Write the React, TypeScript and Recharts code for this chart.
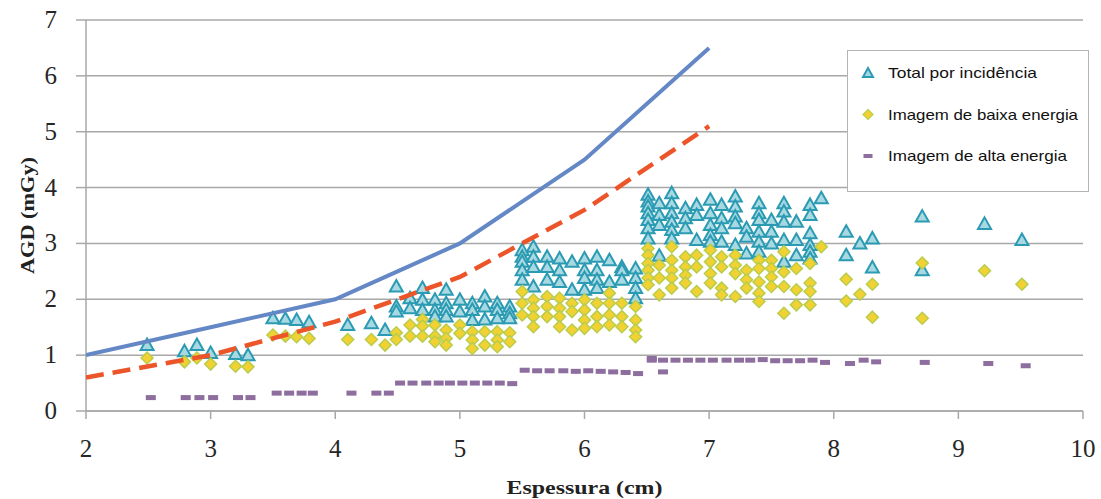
import React from 'react';
import { ScatterChart, Scatter, XAxis, YAxis, CartesianGrid, Legend } from 'recharts';

// Reference dose levels (EUREF style)
const thickness = [2, 3, 4, 4.5, 5, 6, 7];
const acceptableLevel = [1.0, 1.5, 2.0, 2.5, 3.0, 4.5, 6.5];
const achievableLevel = [0.6, 1.0, 1.6, 2.0, 2.4, 3.6, 5.1];

const xTicks = [2, 3, 4, 5, 6, 7, 8, 9, 10];
const yTicks = [0, 1, 2, 3, 4, 5, 6, 7];

const seriesNames = ['Total por incidência', 'Imagem de baixa energia', 'Imagem de alta energia'];

// Total por incidência: [espessura, AGD values...]
const totalCols: number[][] = [
  [2.49, 1.18],
  [2.79, 1.07], [2.89, 1.18], [3.0, 1.04],
  [3.2, 1.02], [3.3, 1.0],
  [3.5, 1.66], [3.6, 1.65], [3.69, 1.63], [3.79, 1.59],
  [4.1, 1.54], [4.29, 1.57], [4.4, 1.45],
  [4.49, 2.23, 1.87, 1.78],
  [4.6, 2.02, 1.84],
  [4.7, 2.2, 1.99, 1.81],
  [4.8, 1.99, 1.81, 1.69],
  [4.89, 2.17, 1.93, 1.81, 1.69],
  [5.0, 1.99, 1.78],
  [5.1, 1.93, 1.81, 1.63],
  [5.2, 2.05, 1.87, 1.64],
  [5.3, 1.93, 1.81, 1.66],
  [5.4, 1.87, 1.75, 1.66],
  [5.5, 2.88, 2.76, 2.67, 2.52, 2.35],
  [5.59, 2.94, 2.76, 2.58, 2.23],
  [5.7, 2.76, 2.58, 2.35],
  [5.8, 2.73, 2.52, 2.31],
  [5.9, 2.67, 2.17],
  [6.0, 2.73, 2.52, 2.38, 2.17],
  [6.1, 2.76, 2.52, 2.35, 2.2],
  [6.2, 2.7, 2.31],
  [6.3, 2.58, 2.52, 2.35],
  [6.41, 2.55, 2.38, 2.2, 2.02],
  [6.51, 3.87, 3.75, 3.66, 3.54, 3.42, 3.27, 3.09],
  [6.6, 3.72, 3.51, 3.33, 2.78],
  [6.7, 3.9, 3.72, 3.54, 3.39, 3.24, 3.09],
  [6.81, 3.63, 3.45, 3.27],
  [6.9, 3.69, 3.51, 3.06],
  [7.01, 3.78, 3.54, 3.33, 3.15, 3.03],
  [7.1, 3.69, 3.45, 3.27, 3.03],
  [7.21, 3.84, 3.66, 3.48, 3.36, 2.97],
  [7.3, 3.27, 3.12, 2.82],
  [7.4, 3.72, 3.54, 3.42, 3.21, 3.03, 2.85],
  [7.5, 3.42, 3.21, 3.0],
  [7.6, 3.72, 3.57, 3.39, 3.06, 2.67],
  [7.7, 3.39, 3.06, 2.79],
  [7.81, 3.69, 3.51, 3.18, 2.97, 2.85, 2.73],
  [7.9, 3.81],
  [8.1, 3.21, 2.79],
  [8.21, 3.0],
  [8.31, 3.09, 2.57],
  [8.71, 3.48, 2.52],
  [9.21, 3.35],
  [9.51, 3.06],
];

// Imagem de baixa energia
const lowCols: number[][] = [
  [2.49, 0.95],
  [2.79, 0.88], [2.89, 0.95], [3.0, 0.84],
  [3.2, 0.8], [3.3, 0.79],
  [3.5, 1.36], [3.6, 1.34], [3.69, 1.33], [3.79, 1.3],
  [4.1, 1.28], [4.29, 1.28], [4.4, 1.18],
  [4.49, 1.4, 1.28],
  [4.6, 1.54, 1.34],
  [4.7, 1.64, 1.52, 1.34],
  [4.8, 1.54, 1.34, 1.24],
  [4.89, 1.45, 1.3, 1.18],
  [5.0, 1.54, 1.39],
  [5.1, 1.42, 1.27, 1.12],
  [5.2, 1.42, 1.18],
  [5.3, 1.42, 1.27, 1.15],
  [5.4, 1.4, 1.24],
  [5.5, 2.14, 1.93, 1.72],
  [5.59, 1.99, 1.84, 1.69, 1.51],
  [5.7, 2.05, 1.87, 1.69],
  [5.8, 2.02, 1.84, 1.69, 1.51],
  [5.9, 1.93, 1.78, 1.45],
  [6.0, 1.99, 1.81, 1.63, 1.48],
  [6.1, 1.93, 1.69, 1.51],
  [6.2, 2.11, 1.93, 1.72, 1.54],
  [6.3, 1.93, 1.69, 1.51],
  [6.41, 1.87, 1.63, 1.45, 1.33],
  [6.51, 2.91, 2.79, 2.64, 2.52, 2.38, 2.26],
  [6.6, 2.61, 2.38, 2.08],
  [6.7, 2.94, 2.7, 2.52, 2.38, 2.2],
  [6.81, 2.76, 2.58, 2.43, 2.29],
  [6.9, 2.79, 2.58, 2.14],
  [7.01, 2.88, 2.67, 2.46, 2.29],
  [7.1, 2.76, 2.58, 2.2, 2.08],
  [7.21, 2.79, 2.61, 2.46, 2.05],
  [7.3, 2.52, 2.35, 2.2],
  [7.4, 2.7, 2.55, 2.31, 2.11, 1.96],
  [7.5, 2.7, 2.55, 2.4, 2.23],
  [7.6, 2.85, 2.49, 2.23, 1.75],
  [7.7, 2.55, 2.17, 1.9],
  [7.81, 2.64, 2.29, 2.14, 1.9],
  [7.9, 2.94],
  [8.1, 2.36, 1.97],
  [8.21, 2.09],
  [8.31, 2.27, 1.68],
  [8.71, 2.65, 1.66],
  [9.21, 2.51],
  [9.51, 2.27],
];

// Imagem de alta energia
const highCols: number[][] = [
  [2.52, 0.24], [2.8, 0.24], [2.91, 0.24], [3.02, 0.24], [3.22, 0.24], [3.32, 0.24],
  [3.53, 0.32], [3.63, 0.32], [3.73, 0.32], [3.82, 0.32],
  [4.13, 0.32], [4.33, 0.32], [4.43, 0.32],
  [4.52, 0.5], [4.62, 0.5], [4.73, 0.5], [4.83, 0.5], [4.92, 0.5],
  [5.02, 0.5], [5.12, 0.5], [5.22, 0.5], [5.32, 0.5], [5.42, 0.49],
  [5.52, 0.73], [5.62, 0.72], [5.72, 0.72], [5.83, 0.72], [5.93, 0.71],
  [6.03, 0.72], [6.13, 0.71], [6.23, 0.7], [6.33, 0.69], [6.43, 0.67],
  [6.54, 0.94, 0.91], [6.63, 0.91, 0.7], [6.73, 0.91], [6.83, 0.91], [6.93, 0.91],
  [7.03, 0.91], [7.14, 0.91], [7.24, 0.91], [7.33, 0.91], [7.43, 0.92],
  [7.53, 0.9], [7.63, 0.9], [7.73, 0.9], [7.83, 0.91], [7.93, 0.87],
  [8.13, 0.85], [8.24, 0.91], [8.34, 0.88], [8.73, 0.87], [9.24, 0.85], [9.54, 0.81],
];

const toPoints = (cols: number[][]) =>
  cols.flatMap((c) => c.slice(1).map((y) => ({ x: c[0], y })));

const totalData = toPoints(totalCols);
const lowData = toPoints(lowCols);
const highData = toPoints(highCols);
const acceptableData = thickness.map((x, i) => ({ x, y: acceptableLevel[i] }));
const achievableData = thickness.map((x, i) => ({ x, y: achievableLevel[i] }));

const TEAL = '#2b9bb3';
const TEAL_FILL = '#a8d9e2';
const YELLOW = '#f2d233';
const YELLOW_EDGE = '#b8cd4b';
const PURPLE = '#8d6e9f';
const BLUE = '#6487c6';
const RED = '#ec5529';
const GRID = '#a8a8a8';
const SERIF = 'Liberation Serif';
const SANS = 'Liberation Sans';
const legendWidths = [149, 190, 179];

const Triangle = (p: any) => {
  const { cx, cy } = p;
  if (cx == null || cy == null) return <g />;
  return (
    <polygon
      points={`${cx},${cy - 6.5} ${cx + 6.5},${cy + 5} ${cx - 6.5},${cy + 5}`}
      fill={TEAL_FILL}
      stroke={TEAL}
      strokeWidth={2}
    />
  );
};

const Diamond = (p: any) => {
  const { cx, cy } = p;
  if (cx == null || cy == null) return <g />;
  return (
    <polygon
      points={`${cx},${cy - 6} ${cx + 6},${cy} ${cx},${cy + 6} ${cx - 6},${cy}`}
      fill={YELLOW}
      stroke={YELLOW_EDGE}
      strokeWidth={1.5}
    />
  );
};

const Dash = (p: any) => {
  const { cx, cy } = p;
  if (cx == null || cy == null) return <g />;
  return <rect x={cx - 5} y={cy - 2.5} width={10} height={5} fill={PURPLE} />;
};

const NoShape = () => <g />;

const XTick = (props: any) => {
  const { x, y, payload } = props;
  return (
    <text x={x} y={y} dy={17} textAnchor="middle" fontFamily={SERIF} fontSize={25} fill="#262626">
      {payload.value}
    </text>
  );
};

const YTick = (props: any) => {
  const { x, y, payload } = props;
  return (
    <text x={x} y={y} dy={8} textAnchor="end" fontFamily={SERIF} fontSize={25} fill="#262626">
      {payload.value}
    </text>
  );
};

const LegendBox = () => (
  <svg width={242} height={142} style={{ display: 'block' }}>
    <rect x={0.5} y={0.5} width={241} height={141} fill="#fff" stroke="#b5b5b5" />
    {seriesNames.map((name, i) => {
      const cy = 23 + i * 41.5;
      return (
        <g key={name}>
          {i === 0 && (
            <polygon points={`21,${cy - 5} 26,${cy + 4} 16,${cy + 4}`} fill={TEAL_FILL} stroke={TEAL} strokeWidth={2} />
          )}
          {i === 1 && (
            <polygon points={`21,${cy - 5} 26,${cy} 21,${cy + 5} 16,${cy}`} fill={YELLOW} stroke={YELLOW_EDGE} strokeWidth={1.2} />
          )}
          {i === 2 && <rect x={16.5} y={cy - 2} width={9} height={4} fill={PURPLE} />}
          <text
            x={41}
            y={cy + 5}
            fontFamily={SANS}
            fontSize={14.5}
            fill="#111"
            textLength={legendWidths[i]}
            lengthAdjust="spacingAndGlyphs"
          >
            {name}
          </text>
        </g>
      );
    })}
  </svg>
);

const YLabel = (props: any) => {
  const { viewBox } = props;
  const x = 27;
  const y = viewBox.y + viewBox.height / 2;
  return (
    <text
      x={x}
      y={y}
      transform={`rotate(-90, ${x}, ${y})`}
      textAnchor="middle"
      dominantBaseline="central"
      fontFamily={SERIF}
      fontWeight="bold"
      fontSize={19}
      fill="#222"
      textLength={117}
      lengthAdjust="spacingAndGlyphs"
    >
      AGD (mGy)
    </text>
  );
};

const XLabel = (props: any) => {
  const { viewBox } = props;
  const x = viewBox.x + viewBox.width / 2;
  return (
    <text
      x={x}
      y={494}
      textAnchor="middle"
      fontFamily={SERIF}
      fontWeight="bold"
      fontSize={19}
      fill="#222"
      textLength={156}
      lengthAdjust="spacingAndGlyphs"
    >
      Espessura (cm)
    </text>
  );
};

export default function App() {
  return (
    <div style={{ position: 'absolute', left: 0, top: 0, width: 1101, height: 499, background: '#fff' }}>
      <ScatterChart width={1101} height={499} margin={{ top: 20, right: 18, bottom: 0, left: 0 }}>
        <CartesianGrid horizontal vertical={false} stroke={GRID} strokeWidth={1.5} />
        <XAxis
          type="number"
          dataKey="x"
          domain={[2, 10]}
          ticks={xTicks}
          allowDataOverflow
          height={88}
          tickSize={8}
          tickMargin={21}
          stroke={GRID}
          strokeWidth={1.5}
          tick={<XTick />}
          label={<XLabel />}
        />
        <YAxis
          type="number"
          dataKey="y"
          domain={[0, 7]}
          ticks={yTicks}
          allowDataOverflow
          width={86}
          tickSize={10}
          tickMargin={19}
          stroke={GRID}
          strokeWidth={1.5}
          tick={<YTick />}
          label={<YLabel />}
        />
        <Scatter name={seriesNames[0]} data={totalData} shape={Triangle} isAnimationActive={false} />
        <Scatter name={seriesNames[1]} data={lowData} shape={Diamond} isAnimationActive={false} />
        <Scatter name={seriesNames[2]} data={highData} shape={Dash} isAnimationActive={false} />
        <Scatter
          name="Nível aceitável"
          data={acceptableData}
          shape={NoShape}
          line={{ stroke: BLUE, strokeWidth: 4 }}
          lineType="joint"
          legendType="none"
          isAnimationActive={false}
        />
        <Scatter
          name="Nível alcançável"
          data={achievableData}
          shape={NoShape}
          line={{ stroke: RED, strokeWidth: 4.5, strokeDasharray: '18 9' }}
          lineType="joint"
          legendType="none"
          isAnimationActive={false}
        />
        <Legend
          verticalAlign="middle"
          align="center"
          layout="horizontal"
          content={<LegendBox />}
          wrapperStyle={{ left: 847, top: 50, width: 242, height: 142 }}
        />
      </ScatterChart>
    </div>
  );
}
